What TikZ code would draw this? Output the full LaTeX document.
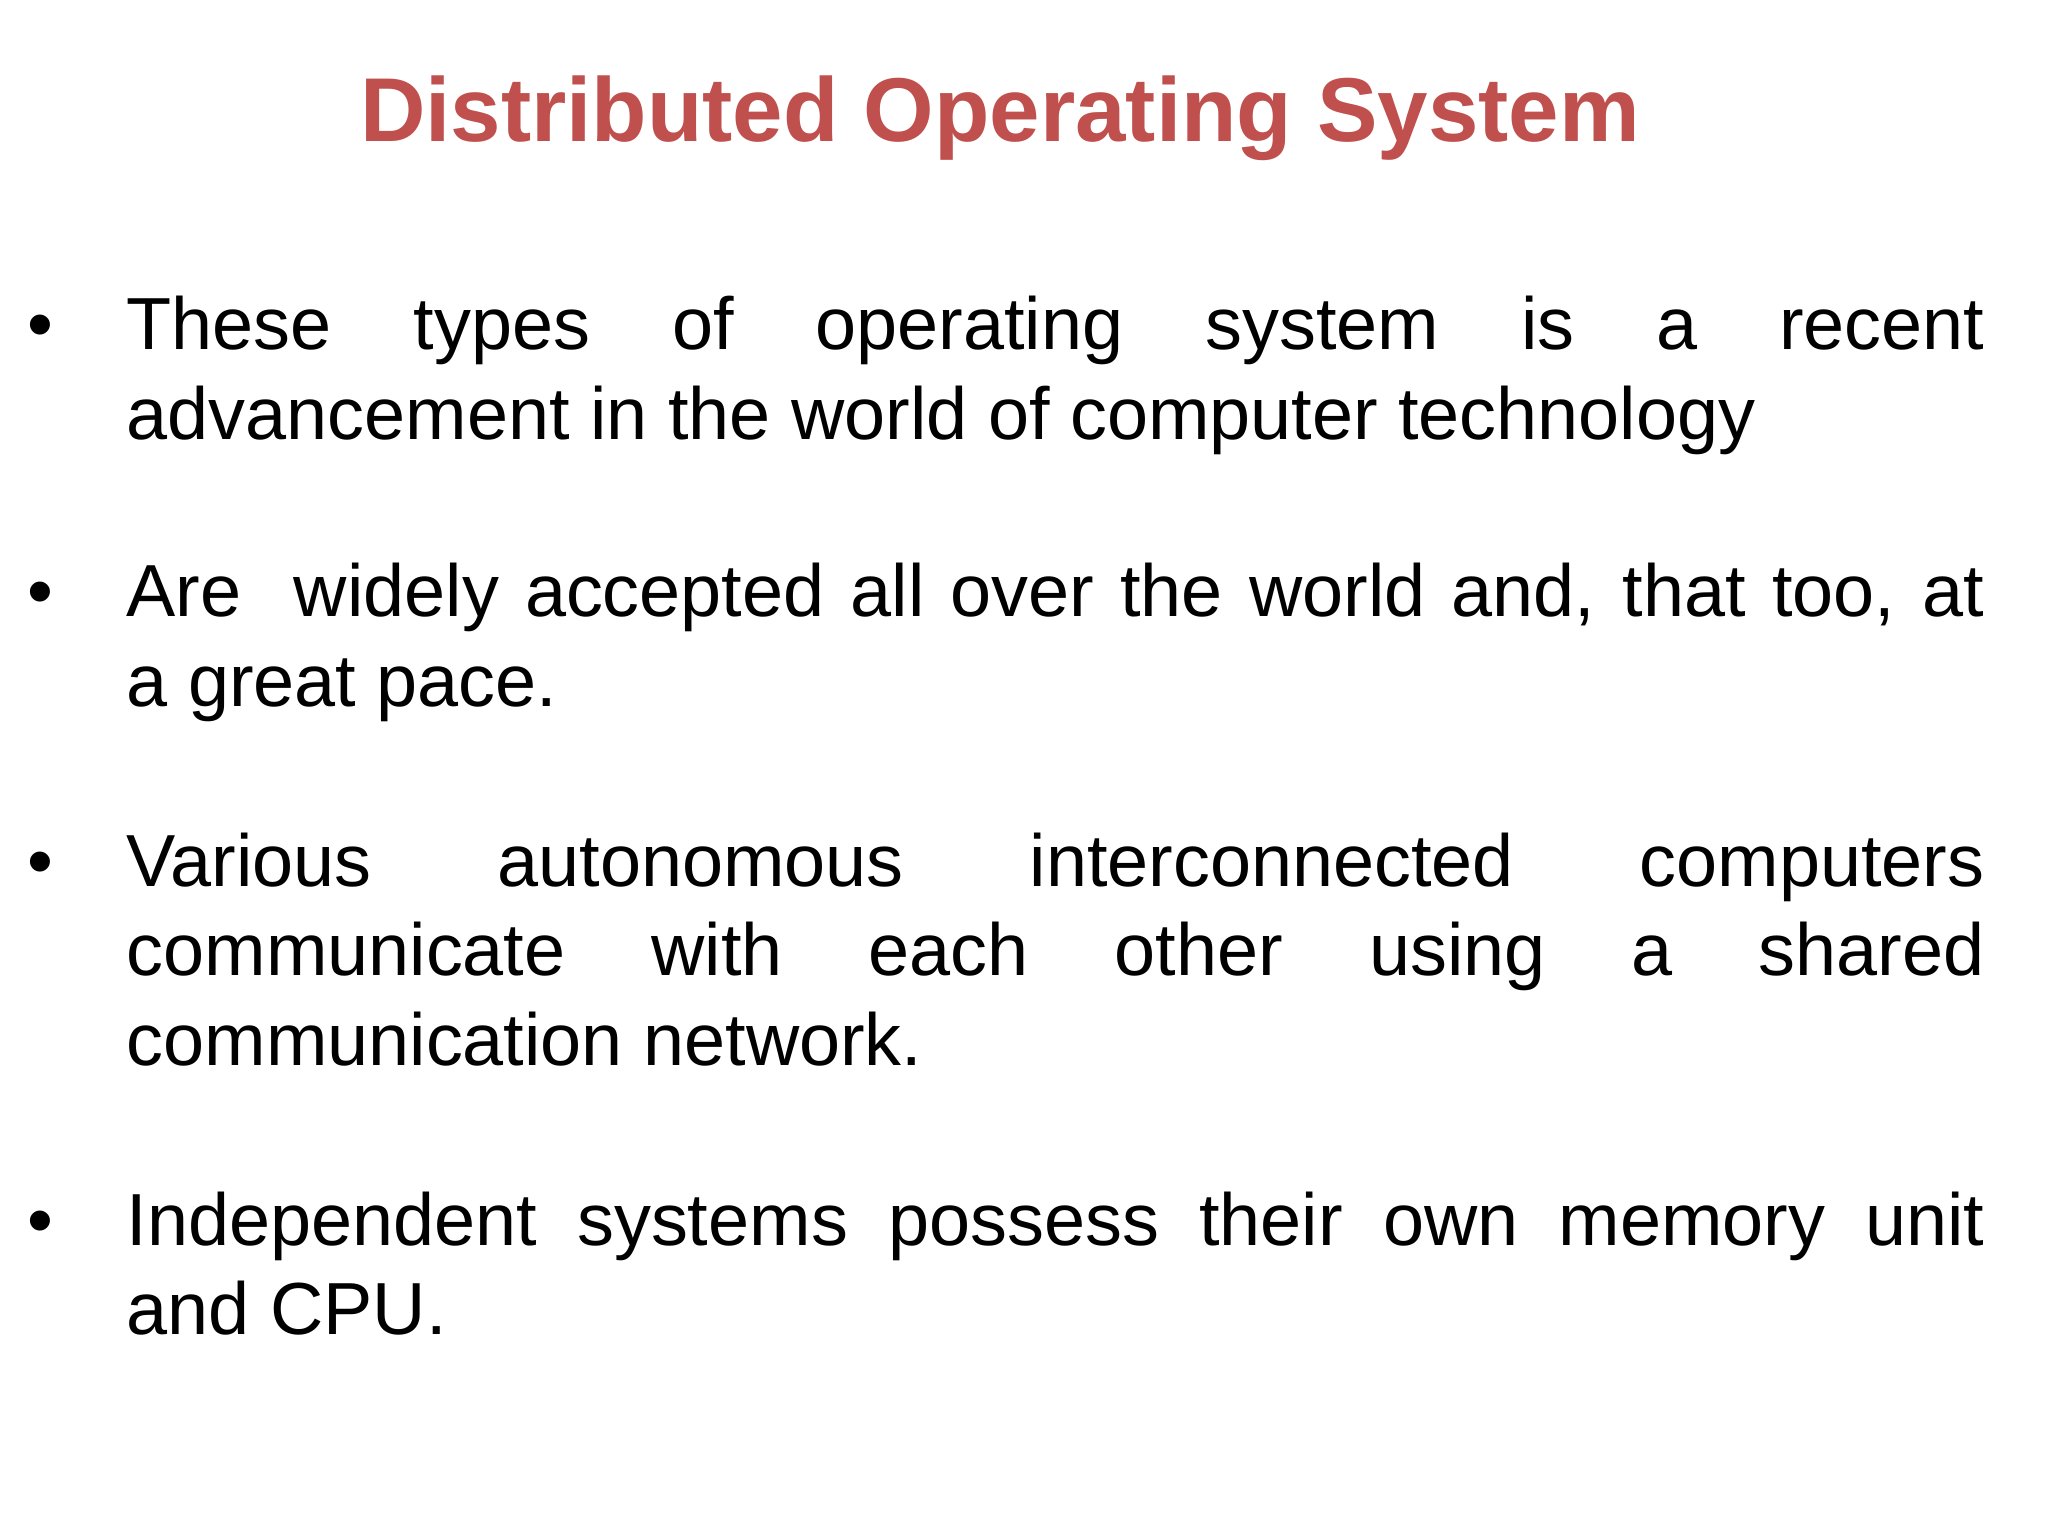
\documentclass[tikz,border=0pt]{standalone}
\usepackage{fontspec}
\setmainfont{Liberation Sans}
\definecolor{titlered}{RGB}{192,80,77}
\begin{document}
\begin{tikzpicture}[x=1cm,y=1cm,
  para/.style={anchor=base west,inner sep=0pt},
  bul/.style={anchor=base,inner sep=0pt,font=\fontsize{21pt}{25.6pt}\selectfont}]
\useasboundingbox[fill=white] (0,0) rectangle (20.48,-15.36);
\node[anchor=base,inner sep=0pt,text=titlered,font=\fontsize{25.8pt}{30pt}\selectfont\bfseries] (title) at (10.0,-1.42) {Distributed Operating System};
\newcommand{\mypara}[1]{\parbox[t]{18.58cm}{\fontsize{21pt}{25.6pt}\selectfont\hyphenpenalty=10000\exhyphenpenalty=10000\tolerance=9999 #1}}
\node[bul] (b1) at (0.40,-3.50) {•};
\node[para] (p1) at (1.26,-3.50) {\mypara{These types of operating system is a recent\linebreak advancement in the world of computer technology}};
\node[bul] (b2) at (0.40,-6.17) {•};
\node[para] (p2) at (1.26,-6.17) {\mypara{Are\ \ widely accepted all over the world and, that too, at\linebreak a great pace.}};
\node[bul] (b3) at (0.40,-8.86) {•};
\node[para] (p3) at (1.26,-8.86) {\mypara{Various autonomous interconnected computers communicate with each other using a shared communication network.}};
\node[bul] (b4) at (0.40,-12.45) {•};
\node[para] (p4) at (1.26,-12.45) {\mypara{Independent systems possess their own memory unit\linebreak and CPU.}};
\end{tikzpicture}
\end{document}
